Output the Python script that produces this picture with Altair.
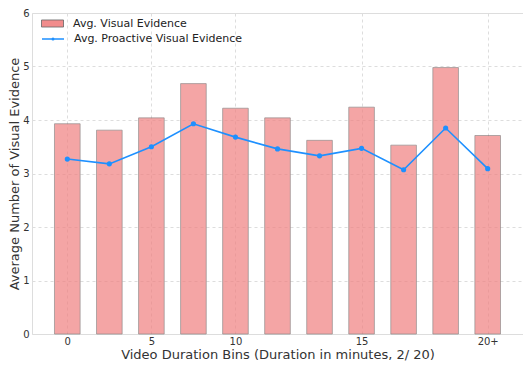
import altair as alt
import pandas as pd

bins = list(range(11))
visual = [3.93, 3.81, 4.04, 4.68, 4.22, 4.04, 3.62, 4.24, 3.53, 4.98, 3.71]
proactive = [3.27, 3.18, 3.50, 3.93, 3.68, 3.46, 3.33, 3.47, 3.07, 3.85, 3.09]
tick_pos = [0, 2, 4, 7, 10]
tick_text = ["0", "5", "10", "15", "20+"]

df = pd.DataFrame({"bin": bins, "visual": visual, "proactive": proactive})
df["bar_label"] = "Avg. Visual Evidence"
df["line_label"] = "Avg. Proactive Visual Evidence"

label_map = "{" + ",".join(f"'{p}':'{t}'" for p, t in zip(tick_pos, tick_text)) + "}"

font = "DejaVu Sans"
xscale = alt.Scale(domain=[-0.84, 10.84], nice=False, zero=False)
yscale = alt.Scale(domain=[0, 6], nice=False)

base = alt.Chart(df)

bars = base.transform_calculate(
    x0="datum.bin - 0.305", x1="datum.bin + 0.305"
).mark_bar(opacity=0.7, stroke="#555555", strokeWidth=0.8, strokeOpacity=0.8).encode(
    x=alt.X("x0:Q", scale=xscale,
            axis=alt.Axis(values=tick_pos, labelExpr=f"{label_map}[datum.value]",
                          title="Video Duration Bins (Duration in minutes, 2/ 20)",
                          grid=True, gridDash=[3, 3], gridColor="#dddddd",
                          ticks=False, domain=False, labelFontSize=10, titleFontSize=13,
                          labelColor="#333333", titleColor="#333333", labelPadding=2,
                          titlePadding=2, titleFontWeight="normal")),
    x2="x1:Q",
    y=alt.Y("visual:Q", scale=yscale,
            axis=alt.Axis(values=[0, 1, 2, 3, 4, 5, 6], format="d",
                          title="Average Number of Visual Evidence",
                          grid=True, gridDash=[3, 3], gridColor="#dddddd",
                          ticks=False, domain=False, labelFontSize=10, titleFontSize=13,
                          labelColor="#333333", titleColor="#333333", labelPadding=3,
                          titlePadding=1, titleFontWeight="normal")),
    y2=alt.Y2(datum=0),
    fill=alt.Fill("bar_label:N", scale=alt.Scale(range=["#F08080"]),
                  legend=alt.Legend(title=None, orient="none", legendX=9, legendY=-1,
                                    symbolType="M-1,-0.32H1V0.32H-1Z", symbolSize=484,
                                    symbolStrokeColor="#555555", symbolStrokeWidth=0.8,
                                    symbolOpacity=0.9, labelLimit=300, labelOffset=9,
                                    labelFontSize=11, labelFont=font, labelColor="#222222")),
)

line = base.mark_line(color="#1E90FF", strokeWidth=1.6,
                      point=alt.OverlayMarkDef(size=10, color="#1E90FF")).encode(
    x=alt.X("bin:Q", scale=xscale),
    y=alt.Y("proactive:Q", scale=yscale),
    stroke=alt.Stroke("line_label:N", scale=alt.Scale(range=["#1E90FF"]),
                      legend=alt.Legend(title=None, orient="none", legendX=9, legendY=14,
                                        symbolType="M-1,0H1M-0.07,0a0.07,0.07 0 1,0 0.14,0a0.07,0.07 0 1,0 -0.14,0",
                                        symbolSize=484, symbolStrokeWidth=1.6,
                                        symbolFillColor="#1E90FF", labelLimit=300, labelOffset=9,
                                        labelFontSize=11, labelFont=font, labelColor="#222222")),
)

chart = alt.layer(bars, line).properties(
    width=491, height=321
).configure_view(stroke="#cccccc", strokeWidth=1).configure(
    font=font, padding={"left": 0, "top": 0, "right": 0, "bottom": 0}
)

chart.save("out.html", embed_options={"renderer": "svg", "actions": False})
